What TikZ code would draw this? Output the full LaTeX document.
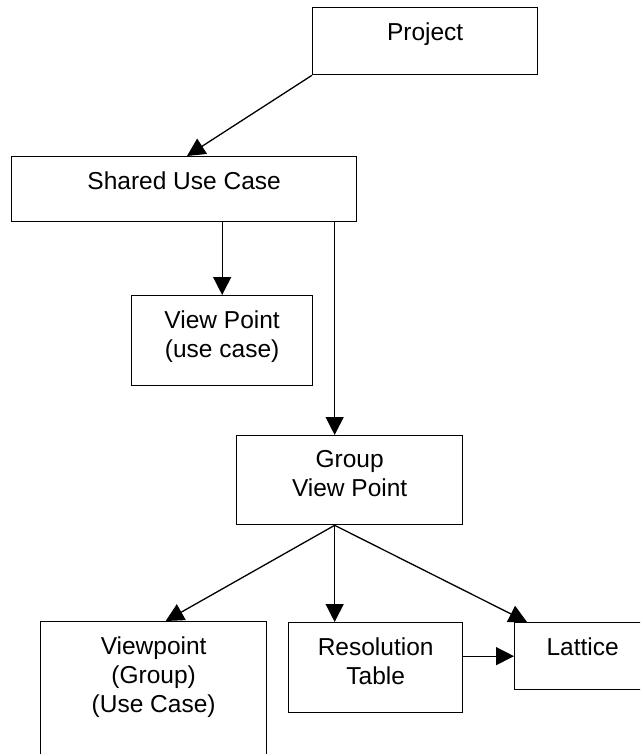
\documentclass[tikz,border=0pt]{standalone}
\usepackage{fontspec}
\setmainfont{Liberation Sans}
\usetikzlibrary{arrows.meta}
\tikzset{
  box/.style={draw=black, line width=1.3pt, fill=white, inner sep=0pt, anchor=north west},
  txt/.style={inner sep=0pt, align=center, anchor=north, font=\fontsize{24.5}{29}\selectfont},
  arr/.style={line width=1.3pt, -{Triangle[length=18pt,width=18pt]}},
}
\begin{document}
\begin{tikzpicture}[x=1pt,y=-1pt]
\useasboundingbox (0,0) rectangle (640,754);
\clip (0,0) rectangle (640,754);
% boxes
\node[box, minimum width=225pt, minimum height=67pt] (proj) at (312,7) {};
\node[box, minimum width=345pt, minimum height=65pt] (shared) at (11,156) {};
\node[box, minimum width=181pt, minimum height=90pt] (vp) at (131,295) {};
\node[box, minimum width=226pt, minimum height=89pt] (group) at (236,435) {};
\node[box, minimum width=226pt, minimum height=150pt] (vpg) at (40,621) {};
\node[box, minimum width=174pt, minimum height=90pt] (res) at (288,622) {};
\node[box, minimum width=136pt, minimum height=67pt] (lat) at (514,622) {};
% texts
\node[txt] (projt) at ([yshift=-15.5pt]proj.north) {Project};
\node[txt] (sharedt) at ([yshift=-15.5pt]shared.north) {Shared Use Case};
\node[txt] (vpt) at ([yshift=-15.5pt]vp.north) {View Point\\ (use case)};
\node[txt] (groupt) at ([yshift=-15.5pt]group.north) {Group\\View Point};
\node[txt] (vpgt) at ([yshift=-15.5pt]vpg.north) {Viewpoint\\(Group)\\(Use Case)};
\node[txt] (rest) at ([yshift=-15.5pt]res.north) {Resolution\\Table};
\node[txt] (latt) at ([yshift=-15.5pt]lat.north) {Lattice};
% connector points
\coordinate (gin) at ([xshift=-15pt]group.north);
\coordinate (gout) at ([xshift=-15pt]group.south);
% connectors
\draw[arr] (proj.south west) -- ([xshift=176pt]shared.north west);
\draw[arr] (shared.south -| vp.north) -- (vp.north);
\draw[arr] (shared.south -| gin) -- (gin);
\draw[arr] (gout) -- ([xshift=12pt]vpg.north);
\draw[arr] (gout) -- (gout |- res.north);
\draw[arr] (gout) -- ([xshift=13pt]lat.north west);
\draw[arr] (res.east |- lat.west) -- (lat.west);
\end{tikzpicture}
\end{document}
